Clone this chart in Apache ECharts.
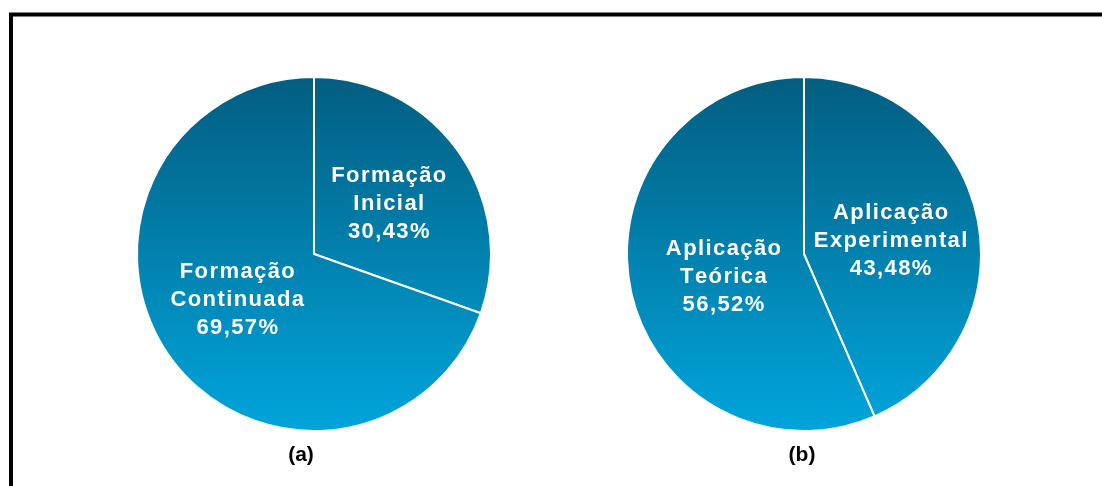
<!DOCTYPE html>
<html style="height: 100%">
<head>
    <meta charset="utf-8">
</head>
<body style="height: 100%; margin: 0; background: #fff">
<div id="container" style="width: 1102px; height: 486px"></div>
<script type="text/javascript" src="https://cdn.jsdelivr.net/npm/echarts@6/dist/echarts.min.js"></script>
<script type="text/javascript">
var dom = document.getElementById("container");
var myChart = echarts.init(dom, null, {renderer: 'canvas'});

// (a) formação
var namesA = ['Formação\nInicial', 'Formação\nContinuada'];
var valuesA = [30.43, 69.57];
// (b) aplicação
var namesB = ['Aplicação\nExperimental', 'Aplicação\nTeórica'];
var valuesB = [43.48, 56.52];
var captions = ['(a)', '(b)'];

// same vertical gradient for the whole disc
var fill = new echarts.graphic.LinearGradient(0, 76, 0, 431, [
    {offset: 0, color: '#035d80'},
    {offset: 1, color: '#00a5dc'}
], true);

// the original text is letter-spaced, wrap every char in a padded rich token
function spaced(str) {
    return str.split('\n').map(function (line) {
        return line.split('').map(function (ch) {
            return '{c|' + ch + '}';
        }).join('');
    }).join('\n');
}

function pieSeries(names, values, cx, shifts) {
    var data = [];
    for (var i = 0; i < names.length; i++) {
        data.push({name: names[i], value: values[i], label: {offset: shifts[i]}});
    }
    return {
        type: 'pie',
        center: [cx, 254],
        radius: [0, 177],
        startAngle: 90,
        clockwise: true,
        avoidLabelOverlap: false,
        animation: false,
        silent: true,
        itemStyle: {
            color: fill,
            borderColor: '#ffffff',
            borderWidth: 2
        },
        label: {
            show: true,
            position: 'inside',
            formatter: function (p) {
                return spaced(p.name + '\n' + p.value.toFixed(2).replace('.', ',') + '%');
            },
            rich: {
                c: {
                    color: '#ffffff',
                    fontFamily: 'Liberation Sans, Arial, sans-serif',
                    fontWeight: 'bold',
                    fontSize: 22,
                    lineHeight: 28,
                    padding: [0, 0.7]
                }
            }
        },
        labelLine: {show: false},
        data: data
    };
}

function caption(text, x) {
    return {
        type: 'text', x: x, y: 455, silent: true,
        style: {
            text: text, fill: '#000', textAlign: 'center', textVerticalAlign: 'middle',
            font: 'bold 21px "Liberation Sans", Arial, sans-serif'
        }
    };
}

option = {
    backgroundColor: '#ffffff',
    graphic: [
        {
            type: 'rect',
            shape: {x: 11, y: 14.5, width: 1200, height: 600},
            style: {fill: 'none', stroke: '#000000', lineWidth: 4},
            silent: true
        },
        caption(captions[0], 301),
        caption(captions[1], 802)
    ],
    series: [
        pieSeries(namesA, valuesA, 314, [[0, 3], [-2, -7]]),
        pieSeries(namesB, valuesB, 804, [[-3, 6], [9, 4]])
    ]
};

myChart.setOption(option);
</script>
</body>
</html>
